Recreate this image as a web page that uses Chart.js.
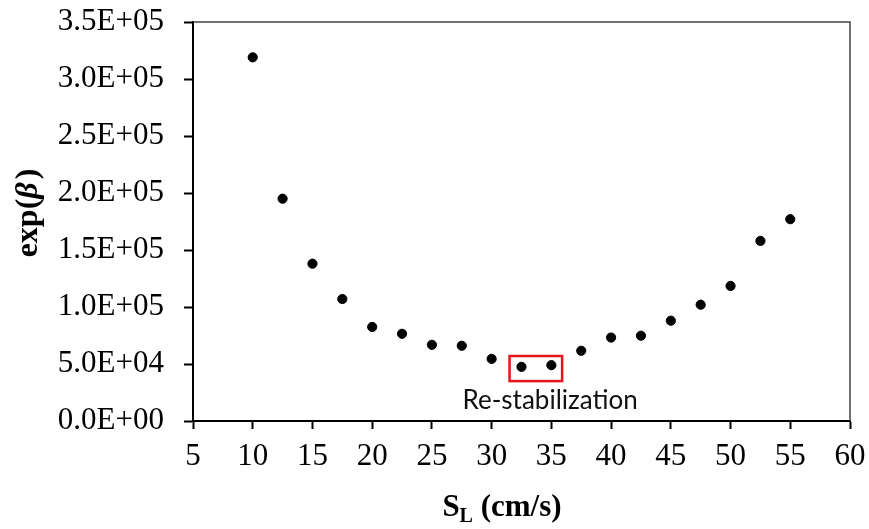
<!DOCTYPE html>
<html>
<head>
<meta charset="utf-8">
<title>exp(beta) vs S_L</title>
<script src="https://cdn.jsdelivr.net/npm/chart.js@4"></script>
<style>
  html, body { margin: 0; padding: 0; background: #fff; }
  #wrap { width: 869px; height: 529px; }
</style>
</head>
<body>
<div id="wrap"><canvas id="chart" width="869" height="529"></canvas></div>
<script>
const speeds = [10, 12.5, 15, 17.5, 20, 22.5, 25, 27.5, 30, 32.5, 35, 37.5, 40, 42.5, 45, 47.5, 50, 52.5, 55];
const expBeta = [319000, 195000, 138000, 107000, 82500, 76500, 66800, 66000, 54500, 47500, 49000,
  61600, 73200, 74800, 88000, 102000, 118500, 158000, 177000];
const xTicks = [5, 10, 15, 20, 25, 30, 35, 40, 45, 50, 55, 60];
const yTicks = [0, 50000, 100000, 150000, 200000, 250000, 300000, 350000];

// highlighted pair and its caption (data units)
const boxRange = { x0: 31.5, x1: 35.9, y0: 35000, y1: 57000 };
const boxLabel = { x: 34.9, y: 10500, text: 'Re-stabilization' };

function sciLabel(v) {
  if (v === 0) return '0.0E+00';
  const exp = Math.floor(Math.log10(v));
  const mant = (v / Math.pow(10, exp)).toFixed(1);
  return mant + 'E+' + String(exp).padStart(2, '0');
}

const serif = "'Liberation Serif', 'Times New Roman', serif";

const frameAndNotes = {
  id: 'frameAndNotes',
  afterDatasetsDraw(chart) {
    const { ctx, chartArea: a, scales: { x, y } } = chart;
    ctx.save();
    // thin top/right frame
    ctx.strokeStyle = '#444';
    ctx.lineWidth = 1.5;
    ctx.beginPath();
    ctx.moveTo(a.left, a.top);
    ctx.lineTo(a.right, a.top);
    ctx.lineTo(a.right, a.bottom);
    ctx.stroke();

    // red box
    const bx0 = x.getPixelForValue(boxRange.x0);
    const bx1 = x.getPixelForValue(boxRange.x1);
    const by0 = y.getPixelForValue(boxRange.y1);
    const by1 = y.getPixelForValue(boxRange.y0);
    ctx.strokeStyle = '#e8141b';
    ctx.lineWidth = 2.5;
    ctx.strokeRect(bx0, by0, bx1 - bx0, by1 - by0);

    ctx.fillStyle = '#111';
    ctx.font = "26px Lato, 'Open Sans', sans-serif";
    ctx.textAlign = 'center';
    ctx.textBaseline = 'alphabetic';
    ctx.fillText(boxLabel.text, x.getPixelForValue(boxLabel.x), y.getPixelForValue(boxLabel.y));
    ctx.restore();
  },
  afterDraw(chart) {
    const { ctx, chartArea: a } = chart;
    ctx.save();
    ctx.fillStyle = '#000';
    ctx.textBaseline = 'alphabetic';

    // x title: S_L (cm/s)
    const big = 'bold 31px ' + serif;
    const small = 'bold 20px ' + serif;
    ctx.font = big;
    const wS = ctx.measureText('S').width;
    const wRest = ctx.measureText(' (cm/s)').width;
    ctx.font = small;
    const wL = ctx.measureText('L').width;
    let cx = 502 - (wS + wL + wRest) / 2;
    const by = 516;
    ctx.font = big;
    ctx.textAlign = 'left';
    ctx.fillText('S', cx, by);
    ctx.font = small;
    ctx.fillText('L', cx + wS, by + 6);
    ctx.font = big;
    ctx.fillText(' (cm/s)', cx + wS + wL, by);

    // y title: exp(β) rotated
    ctx.translate(37, 213);
    ctx.rotate(-Math.PI / 2);
    const it = 'bold italic 32px ' + serif;
    const bf = 'bold 32px ' + serif;
    ctx.font = bf;
    const w1 = ctx.measureText('exp(').width;
    const w3 = ctx.measureText(')').width;
    ctx.font = it;
    const w2 = ctx.measureText('β').width + 3;
    let px = -(w1 + w2 + w3) / 2;
    ctx.font = bf;
    ctx.fillText('exp(', px, 0);
    ctx.font = it;
    ctx.fillText('β', px + w1, 0);
    ctx.font = bf;
    ctx.fillText(')', px + w1 + w2, 0);
    ctx.restore();
  }
};

new Chart(document.getElementById('chart'), {
  type: 'scatter',
  data: {
    datasets: [{
      data: speeds.map((s, i) => ({ x: s, y: expBeta[i] })),
      backgroundColor: '#000',
      borderColor: '#000',
      pointRadius: 4.6,
      pointHoverRadius: 4.6
    }]
  },
  options: {
    responsive: false,
    animation: false,
    events: [],
    layout: { padding: { top: 22, right: 19, left: 0, bottom: 0 } },
    plugins: {
      legend: { display: false },
      tooltip: { enabled: false }
    },
    scales: {
      x: {
        type: 'linear',
        min: 5,
        max: 60,
        afterBuildTicks: (s) => { s.ticks = xTicks.map(v => ({ value: v })); },
        afterFit: (s) => { s.height = 108; s.paddingLeft = 0; s.paddingRight = 0; },
        border: { color: '#000', width: 2 },
        grid: { drawOnChartArea: false, drawTicks: true, tickLength: 8, tickColor: '#000', tickWidth: 2 },
        ticks: {
          color: '#000',
          padding: 9,
          maxRotation: 0,
          font: { family: serif, size: 31 },
          callback: (v) => String(v)
        }
      },
      y: {
        type: 'linear',
        min: 0,
        max: 350000,
        afterBuildTicks: (s) => { s.ticks = yTicks.map(v => ({ value: v })); },
        afterFit: (s) => { s.width = 193; s.paddingTop = 0; s.paddingBottom = 0; },
        border: { color: '#000', width: 2 },
        grid: { drawOnChartArea: false, drawTicks: true, tickLength: 9, tickColor: '#000', tickWidth: 2 },
        ticks: {
          color: '#000',
          padding: 20,
          font: { family: serif, size: 31 },
          callback: (v) => sciLabel(v)
        }
      }
    }
  },
  plugins: [frameAndNotes]
});
</script>
</body>
</html>
